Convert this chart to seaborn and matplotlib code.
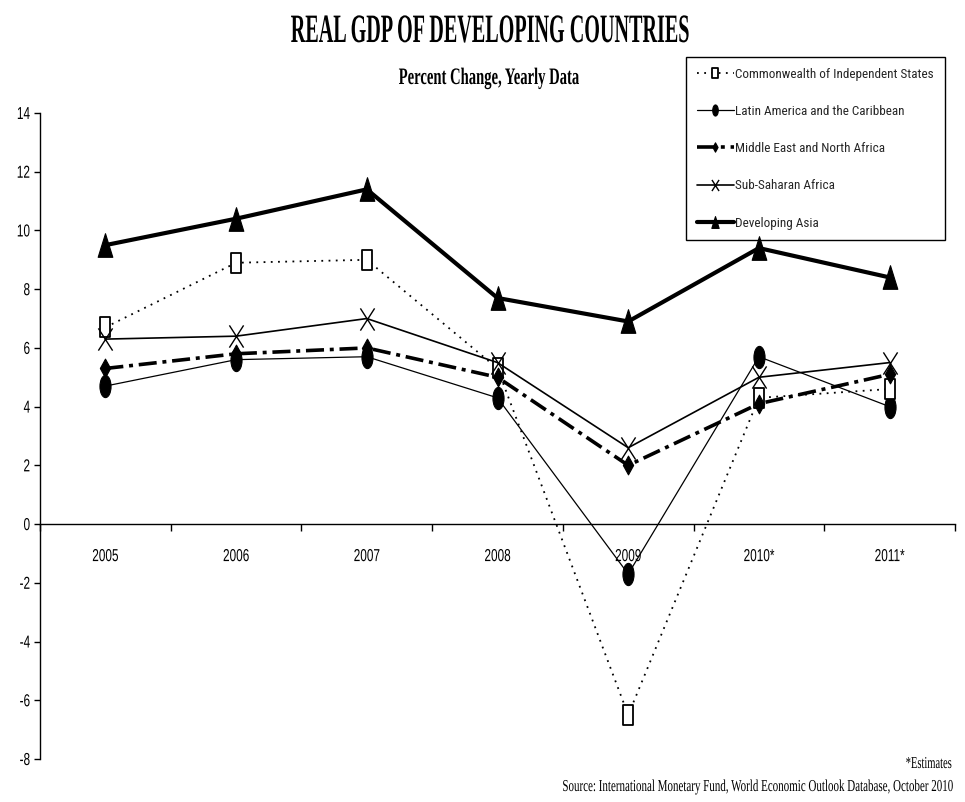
import matplotlib
matplotlib.use("Agg")
import matplotlib.pyplot as plt
import seaborn as sns
from matplotlib import font_manager
from matplotlib.path import Path
from matplotlib.patheffects import AbstractPathEffect
from matplotlib.transforms import Affine2D

# ---- data -----------------------------------------------------------------
years = ["2005", "2006", "2007", "2008", "2009", "2010*", "2011*"]
cis = [6.7, 8.9, 9.0, 5.3, -6.5, 4.3, 4.6]
latin_america = [4.7, 5.6, 5.7, 4.3, -1.7, 5.7, 4.0]
mena = [5.3, 5.8, 6.0, 5.0, 2.0, 4.1, 5.1]
sub_saharan = [6.3, 6.4, 7.0, 5.5, 2.6, 5.0, 5.5]
dev_asia = [9.5, 10.4, 11.4, 7.7, 6.9, 9.4, 8.4]
region_names = [
    "Commonwealth of Independent States",
    "Latin America and the Caribbean",
    "Middle East and North Africa",
    "Sub-Saharan Africa",
    "Developing Asia",
]
y_ticks = [-8, -6, -4, -2, 0, 2, 4, 6, 8, 10, 12, 14]
y_tick_labels = ["-8", "-6", "-4", "-2", "0", "2", "4", "6", "8", "10", "12", "14"]

title = "REAL GDP OF DEVELOPING COUNTRIES"
subtitle = "Percent Change, Yearly Data"
note = "*Estimates"
source = "Source: International Monetary Fund, World Economic Outlook Database, October 2010"

# ---- style ----------------------------------------------------------------
sns.set_theme(style="ticks")
installed = {f.name for f in font_manager.fontManager.ttflist}
narrow = next((f for f in ("Liberation Sans Narrow", "Roboto Condensed") if f in installed), None)
sans = narrow or "Liberation Sans"
legend_size = 9.5 if narrow else 8.5
plt.rcParams["font.family"] = ["Liberation Sans", "DejaVu Sans"]
plt.rcParams["axes.unicode_minus"] = False


class Condensed(AbstractPathEffect):
    """Squeeze glyphs horizontally around an anchor of the text line."""

    def __init__(self, sx, anchor="center"):
        super().__init__()
        self.sx = sx
        self.anchor = anchor

    def draw_path(self, renderer, gc, tpath, affine, rgbFace=None):
        ext = tpath.get_extents()
        if self.anchor == "right":
            cx = ext.x1
        elif self.anchor == "left":
            cx = ext.x0
        else:
            cx = 0.5 * (ext.x0 + ext.x1)
        squeeze = Affine2D().translate(-cx, 0).scale(self.sx, 1.0).translate(cx, 0)
        renderer.draw_path(gc, tpath, squeeze + affine, rgbFace)


# ---- tall marker shapes ---------------------------------------------------
M, L, C = Path.MOVETO, Path.LINETO, Path.CLOSEPOLY
box_marker = Path([(-0.26, -0.5), (0.26, -0.5), (0.26, 0.5), (-0.26, 0.5), (-0.26, -0.5)],
                  [M, L, L, L, C])
_circle = Path.unit_circle()
ellipse_marker = Path(_circle.vertices * [0.5, 1.0], _circle.codes)
diamond_marker = Path([(0, 1), (0.55, 0), (0, -1), (-0.55, 0), (0, 1)], [M, L, L, L, C])
cross_marker = Path([(-0.32, -0.5), (0.32, 0.5), (-0.32, 0.5), (0.32, -0.5)], [M, L, M, L])
triangle_marker = Path([(0, 0.5), (0.31, -0.5), (-0.31, -0.5), (0, 0.5)], [M, L, L, C])

series = [
    (cis, dict(linestyle=(0, (1, 3)), linewidth=1.3, marker=box_marker, markersize=15,
               markerfacecolor="white", markeredgewidth=1.3), 3),
    (latin_america, dict(linestyle="-", linewidth=0.9, marker=ellipse_marker, markersize=16,
                         markerfacecolor="black", markeredgewidth=0.8), 2),
    (mena, dict(linestyle=(0, (5, 1.6, 1.1, 1.6)), linewidth=2.6, marker=diamond_marker,
                markersize=13.5, markerfacecolor="black", markeredgewidth=0.8), 4),
    (sub_saharan, dict(linestyle="-", linewidth=1.2, marker=cross_marker, markersize=16,
                       markerfacecolor="none", markeredgewidth=1.0), 5),
    (dev_asia, dict(linestyle="-", linewidth=3.0, marker=triangle_marker, markersize=17,
                    markerfacecolor="black", markeredgewidth=0.8), 6),
]

# ---- figure ---------------------------------------------------------------
W, H = 965, 802
fig = plt.figure(figsize=(W / 100, H / 100), dpi=100)
fig.patch.set_facecolor("white")
ax = fig.add_axes([40 / W, 43 / H, 915 / W, 646 / H])
ax.set_facecolor("white")

positions = list(range(len(years)))
for (values, style, z), name in zip(series, region_names):
    sns.lineplot(x=positions, y=values, ax=ax, color="black", markeredgecolor="black",
                 label=name, errorbar=None, sort=False, zorder=z, **style)

ax.set_xlim(-0.5, len(years) - 0.5)
ax.set_ylim(min(y_ticks), max(y_ticks))

# y axis
ax.set_yticks(y_ticks)
ax.set_yticklabels(y_tick_labels, fontsize=12.5)
ax.tick_params(axis="y", direction="out", length=4, width=1, color="black", pad=3,
               labelcolor="black")

# category axis sitting on the zero line
ax.spines["bottom"].set_position(("data", 0))
for side in ("top", "right"):
    ax.spines[side].set_visible(False)
for side in ("left", "bottom"):
    ax.spines[side].set_color("black")
    ax.spines[side].set_linewidth(1.0)
ax.set_xticks([p - 0.5 for p in positions] + [len(years) - 0.5])
ax.set_xticklabels([])
ax.tick_params(axis="x", which="major", direction="out", length=5, width=1, color="black")
ax.set_xticks(positions, minor=True)
ax.set_xticklabels(years, minor=True, fontsize=12.5)
ax.tick_params(axis="x", which="minor", length=0, pad=18, labelcolor="black")
ax.set_xlabel("")
ax.set_ylabel("")
ax.grid(False)

for lbl in ax.get_yticklabels():
    lbl.set_path_effects([Condensed(0.68, "right")])
for lbl in ax.get_xticklabels(minor=True):
    lbl.set_path_effects([Condensed(0.68, "center")])

# legend
leg = ax.legend(loc="upper left", bbox_to_anchor=(686 / W, 1 - 57 / H),
                bbox_transform=fig.transFigure, borderaxespad=0, frameon=True,
                fancybox=False, shadow=False, prop={"family": sans, "size": legend_size},
                labelspacing=1.84, handlelength=2.8, handletextpad=0.15, borderpad=0.8,
                markerscale=0.5)
leg.get_frame().set_edgecolor("black")
leg.get_frame().set_linewidth(1.0)
leg.get_frame().set_facecolor("white")
leg.get_frame().set_alpha(1)

# headings and notes
serif = ["Liberation Serif", "DejaVu Serif"]
fig.text(490 / W, 1 - 42 / H, title, ha="center", va="baseline", family=serif,
         fontsize=29, fontweight="bold", color="black",
         path_effects=[Condensed(0.5)])
fig.text(489 / W, 1 - 84 / H, subtitle, ha="center", va="baseline", family=serif,
         fontsize=17, fontweight="bold", color="black",
         path_effects=[Condensed(0.62)])
fig.text(952 / W, 1 - 768 / H, note, ha="right", va="baseline", family=serif,
         fontsize=12, color="black", path_effects=[Condensed(0.63, "right")])
fig.text(952 / W, 1 - 791 / H, source, ha="right", va="baseline", family=serif,
         fontsize=12, color="black", path_effects=[Condensed(0.66, "right")])

fig.savefig("out.png", dpi=100, facecolor="white")
